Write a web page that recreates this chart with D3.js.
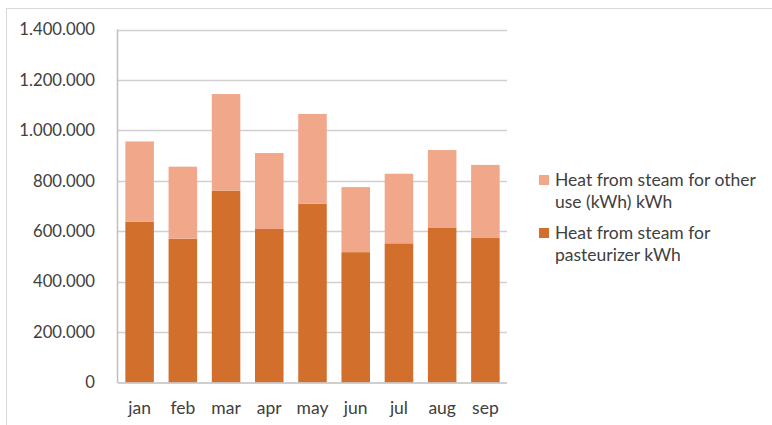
<!DOCTYPE html>
<html><head><meta charset="utf-8">
<script src="https://cdn.jsdelivr.net/npm/d3@7"></script>
<style>body{margin:0;background:#fff;} svg{display:block;font-family:Lato, "Open Sans", sans-serif;}</style>
</head><body>
<svg id="c" width="772" height="425"></svg>
<script>
const months = ["jan","feb","mar","apr","may","jun","jul","aug","sep"];
const pasteurizer = [638000,570000,761000,609000,709000,517000,552000,615000,573000];
const otherUse = [318000,286000,383000,301000,356000,258000,276000,307000,290000];
const yTicks = [0,200000,400000,600000,800000,1000000,1200000,1400000];
const seriesNames = ["Heat from steam for other use (kWh) kWh","Heat from steam for pasteurizer kWh"];
const colors = {pasteurizer:"#D26F2C", other:"#F0A78A"};

const svg = d3.select("#c");
svg.append("rect").attr("x",6.5).attr("y",8.5).attr("width",800).attr("height",500)
  .attr("fill","none").attr("stroke","#d9d9d9");

const pLeft=118, pRight=507, pTop=29.5, pBottom=382.5;
const x = d3.scaleBand().domain(months).range([pLeft,pRight]).paddingInner(0.34).paddingOuter(0.17);
const y = d3.scaleLinear().domain([0,1400000]).range([pBottom,pTop]);
const fmt = v => v===0 ? "0" : d3.format(",")(v).replace(/,/g,".");

// gridlines
svg.append("g").selectAll("line").data(yTicks.filter(d=>d>0)).join("line")
  .attr("x1",pLeft).attr("x2",pRight).attr("y1",d=>Math.round(y(d))+0.5).attr("y2",d=>Math.round(y(d))+0.5)
  .attr("stroke","#d0d0d0").attr("stroke-width",1.5);

const data = months.map((m,i)=>({m, p:pasteurizer[i], o:otherUse[i]}));
const g = svg.append("g");
g.selectAll(".p").data(data).join("rect").attr("class","p")
  .attr("x",d=>x(d.m)).attr("width",x.bandwidth())
  .attr("y",d=>y(d.p)).attr("height",d=>y(0)-y(d.p)).attr("fill",colors.pasteurizer);
g.selectAll(".o").data(data).join("rect").attr("class","o")
  .attr("x",d=>x(d.m)).attr("width",x.bandwidth())
  .attr("y",d=>y(d.p+d.o)).attr("height",d=>y(d.p)-y(d.p+d.o)).attr("fill",colors.other);

// axes lines
svg.append("line").attr("x1",pLeft).attr("x2",pRight).attr("y1",pBottom+0.5).attr("y2",pBottom+0.5)
  .attr("stroke","#bfbfbf").attr("stroke-width",1.5);
svg.append("line").attr("x1",pLeft-0.5).attr("x2",pLeft-0.5).attr("y1",pTop).attr("y2",pBottom+0.5)
  .attr("stroke","#bfbfbf").attr("stroke-width",1.5);

// y labels
svg.append("g").selectAll("text").data(yTicks).join("text")
  .attr("x",95).attr("y",d=>y(d)).attr("dy","0.35em").attr("text-anchor","end")
  .attr("font-size",16.7).attr("fill","#404040").text(fmt);

// x labels
svg.append("g").selectAll("text").data(months).join("text")
  .attr("x",d=>x(d)+x.bandwidth()/2).attr("y",414).attr("text-anchor","middle")
  .attr("font-size",17.5).attr("fill","#404040").text(d=>d);

// legend
const legend = [
  {c:colors.other, lines:["Heat from steam for other","use (kWh) kWh"], y:175},
  {c:colors.pasteurizer, lines:["Heat from steam for","pasteurizer kWh"], y:228}
];
legend.forEach((L,i)=>{
  svg.append("rect").attr("x",539).attr("y",L.y).attr("width",10).attr("height",10).attr("fill",L.c);
  const t = svg.append("text").attr("x",555).attr("y",L.y+11).attr("font-size",17.5).attr("fill","#404040");
  L.lines.forEach((ln,j)=>t.append("tspan").attr("x",555).attr("dy",j?22:0).text(ln));
});
</script>
</body></html>
